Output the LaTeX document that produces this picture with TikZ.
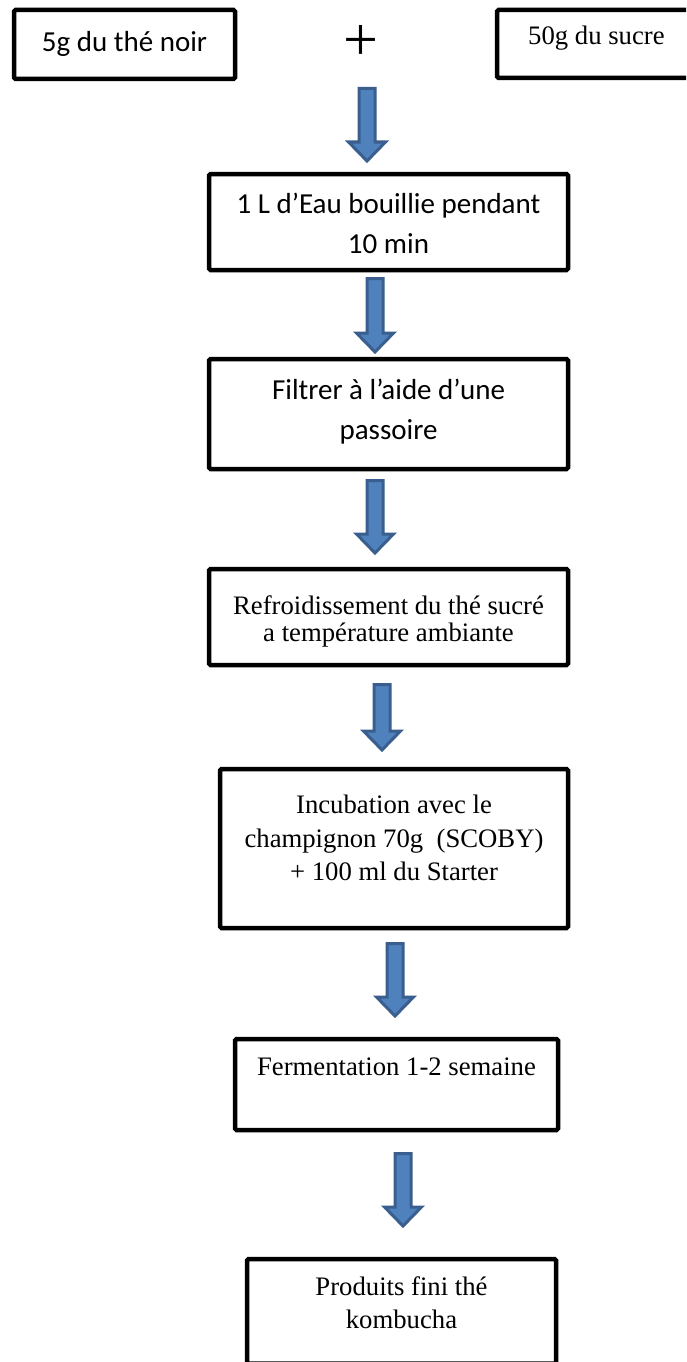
\documentclass[tikz,border=0pt]{standalone}
\usepackage{fontspec}
\setmainfont{Liberation Serif}
\newfontfamily\calfont{Carlito}
\usetikzlibrary{calc}
\definecolor{arrowfill}{HTML}{4F81BD}
\definecolor{arrowline}{HTML}{3A5F8E}
\tikzset{
  box/.style={draw=black, line width=4.5pt, rounded corners=1.5pt, fill=white, inner sep=0pt},
  cal/.style={font=\calfont\fontsize{29}{35}\selectfont, anchor=base, inner sep=0pt},
  tnr/.style={font=\fontsize{26.7}{32}\selectfont, anchor=base, inner sep=0pt},
  blockarrow/.style={draw=arrowline, fill=arrowfill, line width=3pt, line join=miter,
    to path={let \p1=(\tikztostart), \p2=(\tikztotarget) in
      (\x1-8pt,\y1) -- (\x1+8pt,\y1) -- (\x1+8pt,\y2+19pt) -- (\x1+18.5pt,\y2+19pt)
      -- (\x1,\y2) -- (\x1-18.5pt,\y2+19pt) -- (\x1-8pt,\y2+19pt) -- cycle}}
}
\begin{document}
\begin{tikzpicture}[x=1pt,y=-1pt]
\fill[white] (0,0) rectangle (686,1362);
\useasboundingbox (0,0) rectangle (686,1362);
\clip (0,0) rectangle (686,1362);

% top row
\node[box, minimum width=221pt, minimum height=69pt] (b1) at (124.5,44.5) {};
\node[cal] (t1) at (124.5,52) {5g du thé noir};
\node[font=\fontsize{62}{62}\selectfont, inner sep=0pt] (plus) at (361,43) {+};
\node[box, minimum width=203pt, minimum height=68pt] (b0) at (598.5,44) {};
\node[tnr, anchor=base west] (t0) at (528,45) {50g du sucre};

% box 2
\node[box, minimum width=359pt, minimum height=96pt] (b2) at (388.5,222) {};
\node[cal] (t2a) at (388.5,213) {1 L d’Eau bouillie pendant};
\node[cal] (t2b) at (388.5,253) {10 min};

% box 3
\node[box, minimum width=359pt, minimum height=110pt] (b3) at (388.5,414) {};
\node[cal] (t3a) at (388.5,399) {Filtrer à l’aide d’une};
\node[cal] (t3b) at (388.5,439) {passoire};

% box 4
\node[box, minimum width=359pt, minimum height=96pt] (b4) at (388.5,617) {};
\node[tnr] (t4a) at (388.5,614) {Refroidissement du thé sucré};
\node[tnr] (t4b) at (388.5,641) {a température ambiante};

% box 5
\node[box, minimum width=348pt, minimum height=159pt] (b5) at (394,848.5) {};
\node[tnr] (t5a) at (394,813) {Incubation avec le};
\node[tnr] (t5b) at (394,847) {champignon 70g\ \ (SCOBY)};
\node[tnr] (t5c) at (394,880) {+ 100 ml du Starter};

% box 6
\node[box, minimum width=323pt, minimum height=91pt] (b6) at (396.5,1084.5) {};
\node[tnr] (t6) at (396.5,1075) {Fermentation 1-2 semaine};

% box 7
\node[box, minimum width=309pt, minimum height=104.5pt] (b7) at (401.5,1311.25) {};
\node[tnr] (t7a) at (401.5,1295) {Produits fini thé};
\node[tnr] (t7b) at (401.5,1328) {kombucha};

% arrows
\coordinate (a1s) at (367,88.5);  \coordinate (a1e) at (367,161);
\coordinate (a2s) at (375,278.5); \coordinate (a2e) at (375,352);
\coordinate (a3s) at (375,480.5); \coordinate (a3e) at (375,553);
\coordinate (a4s) at (382,684.5); \coordinate (a4e) at (382,750);
\coordinate (a5s) at (395,943.5); \coordinate (a5e) at (395,1016);
\coordinate (a6s) at (403,1153.5); \coordinate (a6e) at (403,1226);
\draw[blockarrow] (a1s) to (a1e);
\draw[blockarrow] (a2s) to (a2e);
\draw[blockarrow] (a3s) to (a3e);
\draw[blockarrow] (a4s) to (a4e);
\draw[blockarrow] (a5s) to (a5e);
\draw[blockarrow] (a6s) to (a6e);
\end{tikzpicture}
\end{document}
